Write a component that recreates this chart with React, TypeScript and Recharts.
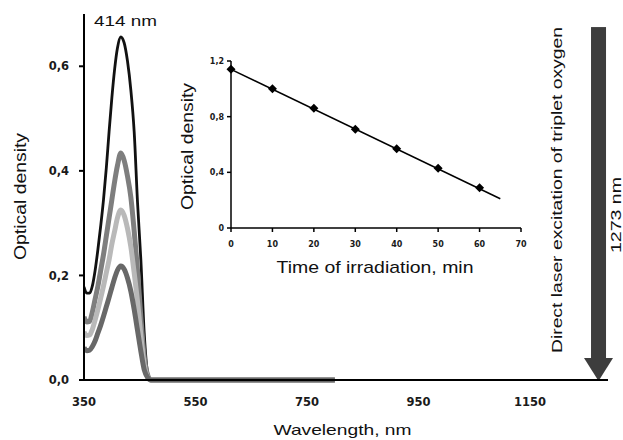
import React from "react"
import {
  LineChart,
  Line,
  XAxis,
  YAxis,
  ReferenceLine,
  ComposedChart,
  Scatter,
} from "recharts"

// absorption spectra, nm grid
const wavelengths = [350, 355, 360, 365, 370, 375, 380, 385, 390, 395, 400, 405, 410, 416, 422, 428, 434, 440, 446, 452, 458, 464, 470, 480, 600, 700, 800]
const spectrum0 = [0.178, 0.166, 0.166, 0.18, 0.21, 0.25, 0.295, 0.345, 0.405, 0.475, 0.54, 0.595, 0.635, 0.656, 0.645, 0.61, 0.555, 0.475, 0.34, 0.23, 0.09, 0.015, 0, 0, 0, 0, 0]
const spectrum1 = [0.121, 0.111, 0.112, 0.13, 0.155, 0.18, 0.21, 0.24, 0.275, 0.31, 0.345, 0.38, 0.41, 0.434, 0.42, 0.39, 0.35, 0.285, 0.21, 0.12, 0.045, 0.01, 0, 0, 0, 0, 0]
const spectrum2 = [0.092, 0.085, 0.086, 0.097, 0.115, 0.135, 0.157, 0.18, 0.205, 0.23, 0.26, 0.285, 0.31, 0.325, 0.315, 0.29, 0.255, 0.205, 0.15, 0.085, 0.03, 0.006, 0, 0, 0, 0, 0]
const spectrum3 = [0.062, 0.056, 0.057, 0.064, 0.075, 0.09, 0.105, 0.122, 0.14, 0.158, 0.177, 0.195, 0.21, 0.218, 0.212, 0.195, 0.17, 0.135, 0.095, 0.055, 0.02, 0.005, 0, 0, 0, 0, 0]
const wlTicks = [350, 550, 750, 950, 1150]
const odTicks = [0, 0.2, 0.4, 0.6]
const laserNm = 1273

// inset: optical density vs irradiation time
const times = [0, 10, 20, 30, 40, 50, 60]
const timeOD = [1.14, 1.0, 0.86, 0.71, 0.57, 0.43, 0.29]
const fitTimes = [0, 65]
const fitOD = [1.14, 0.21]
const timeTicks = [0, 10, 20, 30, 40, 50, 60, 70]
const insetOdTicks = [0, 0.4, 0.8, 1.2]

const spectra = wavelengths.map((nm, i) => ({
  nm,
  s0: spectrum0[i],
  s1: spectrum1[i],
  s2: spectrum2[i],
  s3: spectrum3[i],
}))
const points = times.map((t, i) => ({ t, od: timeOD[i] }))
const fit = fitTimes.map((t, i) => ({ t, od: fitOD[i] }))

const comma = (v: number) => (v === 0 ? "0" : String(v).replace(".", ","))
const comma1 = (v: number) => v.toFixed(1).replace(".", ",")

const tickFont = { fontFamily: "DejaVu Sans", fontWeight: 700, fill: "#1a1a1a" }
const labelFont = { fontFamily: "Liberation Sans, Arial", fill: "#111" }

const Diamond = (props: any) => {
  const { cx, cy } = props
  if (cx == null || cy == null) return null
  const r = 4.5
  return <polygon points={`${cx},${cy - r} ${cx + r},${cy} ${cx},${cy + r} ${cx - r},${cy}`} fill="#000" />
}

const Arrow = (props: any) => {
  const { x1, y1, y2 } = props
  const head = 22
  return (
    <g>
      <rect x={x1 - 7.5} y={y1} width={15} height={y2 - y1 - head} fill="#3d3d3d" />
      <polygon points={`${x1 - 14.5},${y2 - head} ${x1 + 14.5},${y2 - head} ${x1},${y2 + 1}`} fill="#3d3d3d" />
    </g>
  )
}

export default function App() {
  // fixed to the viewport so nothing scrolls; coordinates below are page pixels
  return (
    <div style={{ position: "fixed", left: 0, top: 0, width: 623, height: 440, background: "#fff" }}>
      <LineChart width={623} height={440} data={spectra} margin={{ top: 14, right: 15, bottom: 20, left: 0 }}>
        <XAxis
          type="number"
          dataKey="nm"
          domain={[350, 1290]}
          ticks={wlTicks}
          allowDataOverflow
          height={40}
          tickLine={false}
          tickSize={0}
          tickMargin={18}
          stroke="#000"
          strokeWidth={2}
          tick={{ ...tickFont, fontSize: 11.5 }}
        />
        <YAxis
          type="number"
          domain={[0, 0.7]}
          ticks={odTicks}
          width={84}
          tickSize={5}
          tickMargin={10}
          tickFormatter={comma1}
          stroke="#000"
          strokeWidth={2}
          tick={{ ...tickFont, fontSize: 11.5 }}
        />
        <Line type="monotone" dataKey="s0" stroke="#111" strokeWidth={2.8} dot={false} isAnimationActive={false} />
        <Line type="monotone" dataKey="s1" stroke="#7e7e7e" strokeWidth={5} dot={false} isAnimationActive={false} />
        <Line type="monotone" dataKey="s2" stroke="#b9b9b9" strokeWidth={5} dot={false} isAnimationActive={false} />
        <Line type="monotone" dataKey="s3" stroke="#686868" strokeWidth={5} dot={false} isAnimationActive={false} />
        <ReferenceLine
          segment={[{ x: laserNm, y: 0.675 }, { x: laserNm, y: 0 }]}
          shape={Arrow}
        />
      </LineChart>

      <div style={{ position: "absolute", left: 175, top: 50 }}>
        <ComposedChart width={355} height={230} margin={{ top: 11, right: 9, bottom: 12, left: 0 }}>
          <XAxis
            type="number"
            dataKey="t"
            domain={[0, 70]}
            ticks={timeTicks}
            height={40}
            tickSize={4}
            tickMargin={9}
            stroke="#000"
            strokeWidth={1.5}
            tick={{ ...tickFont, fontSize: 8 }}
          />
          <YAxis
            type="number"
            domain={[0, 1.2]}
            ticks={insetOdTicks}
            width={56}
            tickSize={4}
            tickMargin={3}
            tickFormatter={comma}
            stroke="#000"
            strokeWidth={1.5}
            tick={{ ...tickFont, fontSize: 8 }}
          />
          <Line data={fit} dataKey="od" stroke="#000" strokeWidth={1.5} dot={false} isAnimationActive={false} />
          <Scatter data={points} dataKey="od" shape={Diamond} isAnimationActive={false} />
        </ComposedChart>
      </div>

      <svg width={623} height={440} style={{ position: "absolute", left: 0, top: 0, pointerEvents: "none" }}>
        <text x={94} y={26} fontSize={15.5} textLength={63} lengthAdjust="spacingAndGlyphs" {...labelFont}>414 nm</text>
        <text x={26} y={196.5} transform="rotate(-90 26 196.5)" textAnchor="middle" fontSize={16} textLength={127} lengthAdjust="spacingAndGlyphs" {...labelFont}>Optical density</text>
        <text x={193} y={146.5} transform="rotate(-90 193 146.5)" textAnchor="middle" fontSize={16} textLength={127} lengthAdjust="spacingAndGlyphs" {...labelFont}>Optical density</text>
        <text x={375} y={273.3} textAnchor="middle" fontSize={17} textLength={197} lengthAdjust="spacingAndGlyphs" {...labelFont}>Time of irradiation, min</text>
        <text x={342.5} y={435} textAnchor="middle" fontSize={14.5} textLength={138} lengthAdjust="spacingAndGlyphs" {...labelFont}>Wavelength, nm</text>
        <text x={561.7} y={190} transform="rotate(-90 561.7 190)" textAnchor="middle" fontSize={15.5} textLength={326} lengthAdjust="spacingAndGlyphs" {...labelFont}>Direct laser excitation of triplet oxygen</text>
        <text x={620.5} y={215} transform="rotate(-90 620.5 215)" textAnchor="middle" fontSize={15.5} textLength={76} lengthAdjust="spacingAndGlyphs" {...labelFont}>1273 nm</text>
      </svg>
    </div>
  )
}
